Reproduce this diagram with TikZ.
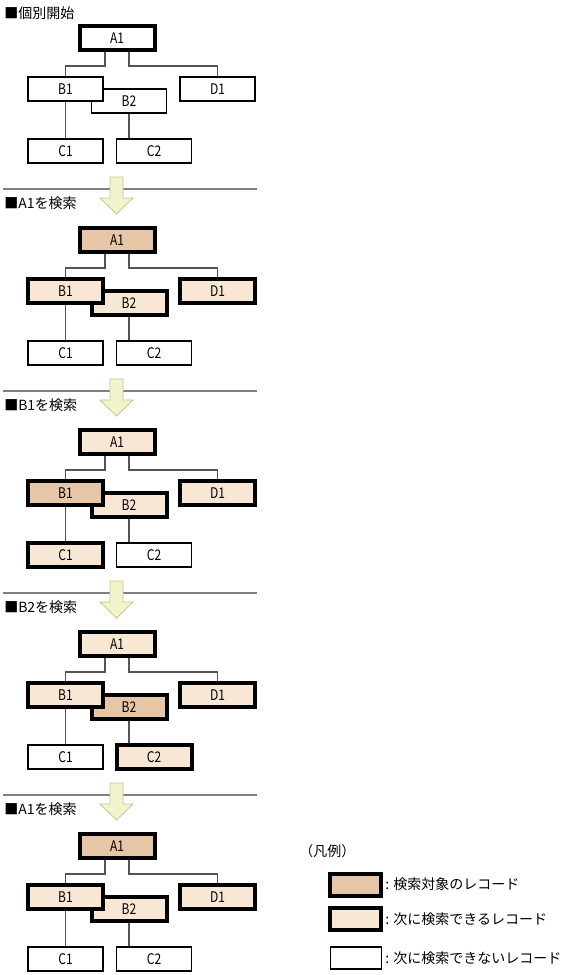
\documentclass[tikz,border=0pt]{standalone}
\usepackage{fontspec}
\setmainfont{Noto Sans CJK JP}
\newfontfamily\lblfont{Noto Sans CJK JP}[FakeStretch=0.82]
\usetikzlibrary{backgrounds}
\definecolor{tgtc}{RGB}{230,198,166}
\definecolor{nxtc}{RGB}{249,231,214}
\definecolor{arrfill}{RGB}{243,243,204}
\definecolor{arrdraw}{RGB}{196,196,150}
\definecolor{sepc}{RGB}{128,128,128}
\definecolor{conc}{RGB}{85,85,85}

\tikzset{
  box/.style={draw=black, minimum width=56.25pt, minimum height=18pt, inner sep=0pt,
    font=\lblfont\fontsize{11pt}{12pt}\selectfont},
  plain/.style={box, fill=white, line width=0.8pt},
  thk/.style={box, fill=white, line width=3pt},
  tgt/.style={thk, fill=tgtc},
  nxt/.style={thk, fill=nxtc},
  conn/.style={draw=conc, line width=0.8pt},
  sepline/.style={draw=sepc, line width=1pt},
  head/.style={anchor=west, inner sep=0pt, font=\fontsize{10.5pt}{12pt}\selectfont},
  legtxt/.style={anchor=west, inner sep=0pt, font=\fontsize{10.5pt}{12pt}\selectfont},
  flowarr/.style={fill=arrfill, draw=arrdraw, line width=0.6pt},
  lgd/.style={minimum width=38.25pt, minimum height=16.5pt}
}

% #1 offset, #2 prefix, #3 A1, #4 B1, #5 B2, #6 D1, #7 C1, #8 C2
\newcommand\drawpanel[8]{%
  \begin{scope}[shift={(0,#1)}]
    \node[#3] (#2A1) at (117,38) {A1};
    \node[#5] (#2B2) at (129,101) {B2};
    \node[#4] (#2B1) at (65.5,89) {B1};
    \node[#6] (#2D1) at (217.5,89) {D1};
    \node[#7] (#2C1) at (65.5,151) {C1};
    \node[#8] (#2C2) at (154,151) {C2};
    \begin{scope}[on background layer]
      \draw[conn] ([xshift=-9pt]#2A1.south) -- ++(0,14) -| (#2B1.north);
      \draw[conn] ([xshift=9pt]#2A1.south) -- ++(0,14) -| (#2D1.north);
      \draw[conn] (#2B1.south) -- (#2C1.north);
      \draw[conn] (#2B2.south) -- (#2B2.south |- #2C2.north);
    \end{scope}
  \end{scope}}

% #1 separator y, #2 name
\newcommand\flowstep[2]{%
  \coordinate (#2l) at (3,#1);
  \coordinate (#2r) at (257,#1);
  \draw[sepline] (#2l) -- (#2r);
  \begin{scope}[shift={(0,#1)}]
    \filldraw[flowarr] (110,-12) -- (123,-12) -- (123,9) -- (133,9) -- (116.5,25)
      -- (100,9) -- (110,9) -- cycle;
  \end{scope}}

\begin{document}
\begin{tikzpicture}[x=0.75pt,y=-0.75pt]
\useasboundingbox (0,0) rectangle (569,975);

\node[head] (h1) at (4,13) {■個別開始};
\drawpanel{0}{p}{thk}{plain}{plain}{plain}{plain}{plain}

\flowstep{189}{s1}
\node[head] (h2) at (4,203) {■A1を検索};
\drawpanel{202}{q}{tgt}{nxt}{nxt}{nxt}{plain}{plain}

\flowstep{391}{s2}
\node[head] (h3) at (4,405) {■B1を検索};
\drawpanel{404}{r}{nxt}{tgt}{nxt}{nxt}{nxt}{plain}

\flowstep{593}{s3}
\node[head] (h4) at (4,607) {■B2を検索};
\drawpanel{606}{s}{nxt}{nxt}{tgt}{nxt}{plain}{nxt}

\flowstep{795}{s4}
\node[head] (h5) at (4,809) {■A1を検索};
\drawpanel{808}{t}{tgt}{nxt}{nxt}{nxt}{plain}{plain}

% legend
\node[legtxt] (lt) at (299,851) {（凡例）};
\node[tgt, lgd] (L1) at (355.5,884.5) {};
\node[nxt, lgd] (L2) at (355.5,919) {};
\node[plain, lgd] (L3) at (356,958) {};
\node[legtxt] (L1t) at (385,884.5) {: 検索対象のレコード};
\node[legtxt] (L2t) at (385,919) {: 次に検索できるレコード};
\node[legtxt] (L3t) at (385,958) {: 次に検索できないレコード};
\end{tikzpicture}
\end{document}
